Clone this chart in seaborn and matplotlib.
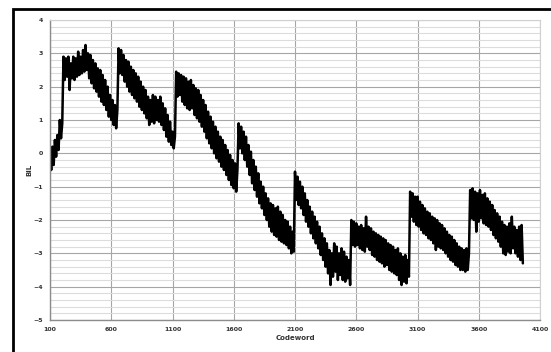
import matplotlib
matplotlib.use("Agg")
import matplotlib.pyplot as plt
from matplotlib.patches import Rectangle
from matplotlib.ticker import MultipleLocator
import seaborn as sns
import pandas as pd

# =========================
# DATA (one value every 10 codewords)
# =========================
bil = [
    # 100 - 290
    -0.1, -0.5, 0.2, -0.35, 0.4, -0.1, 0.55, 0.1, 1.0, 0.45,
    0.9, 2.9, 2.2, 2.85, 2.3, 2.9, 1.9, 2.7, 2.25, 2.9,
    # 300 - 490
    2.2, 2.85, 2.3, 3.05, 2.35, 2.9, 2.4, 3.1, 2.45, 3.25,
    2.5, 3.0, 2.25, 2.95, 2.1, 2.8, 1.95, 2.7, 1.85, 2.55,
    # 500 - 690
    1.7, 2.5, 1.55, 2.35, 1.45, 2.2, 1.3, 2.0, 1.1, 1.75,
    1.0, 1.6, 0.85, 1.45, 0.75, 1.3, 3.15, 2.4, 3.1, 2.35,
    # 700 - 890
    2.95, 2.15, 2.8, 2.0, 2.75, 1.85, 2.6, 1.75, 2.5, 1.65,
    2.4, 1.55, 2.3, 1.4, 2.15, 1.3, 2.0, 1.2, 1.9, 1.05,
    # 900 - 1090
    1.7, 0.85, 1.6, 0.95, 1.75, 0.9, 1.7, 1.0, 1.6, 0.95,
    1.7, 0.85, 1.5, 0.7, 1.35, 0.5, 1.15, 0.35, 0.95, 0.25,
    # 1100 - 1290
    0.65, 0.15, 0.5, 2.45, 1.7, 2.4, 1.75, 2.35, 1.55, 2.3,
    1.45, 2.25, 1.35, 2.15, 1.3, 2.2, 1.35, 2.05, 1.15, 1.95,
    # 1300 - 1490
    1.05, 1.9, 0.95, 1.75, 0.8, 1.6, 0.65, 1.45, 0.45, 1.25,
    0.3, 1.1, 0.15, 0.95, 0.0, 0.8, -0.15, 0.65, -0.25, 0.5,
    # 1500 - 1690
    -0.4, 0.4, -0.5, 0.25, -0.65, 0.1, -0.8, -0.05, -0.95, -0.2,
    -1.05, -0.3, -1.15, -0.5, 0.9, 0.15, 0.8, 0.0, 0.65, -0.2,
    # 1700 - 1890
    0.5, -0.4, 0.25, -0.65, 0.05, -0.9, -0.2, -1.1, -0.4, -1.3,
    -0.6, -1.5, -0.85, -1.65, -1.0, -1.85, -1.2, -2.0, -1.35, -2.2,
    # 1900 - 2090
    -1.5, -2.35, -1.55, -2.45, -1.65, -2.5, -1.6, -2.6, -1.75, -2.65,
    -1.85, -2.7, -2.0, -2.75, -2.05, -2.85, -2.2, -3.0, -2.35, -2.95,
    # 2100 - 2290
    -0.55, -1.4, -0.7, -1.55, -0.85, -1.65, -1.0, -1.85, -1.2, -2.05,
    -1.4, -2.2, -1.6, -2.4, -1.75, -2.55, -1.9, -2.7, -2.05, -2.85,
    # 2300 - 2490
    -2.2, -3.05, -2.4, -3.2, -2.55, -3.4, -2.7, -3.6, -2.9, -3.95,
    -3.0, -3.7, -2.7, -3.55, -2.8, -3.8, -3.0, -3.65, -2.85, -3.8,
    # 2500 - 2690
    -2.95, -3.85, -3.1, -3.75, -3.2, -3.95, -2.0, -2.75, -2.05, -2.8,
    -2.1, -2.75, -2.2, -2.85, -2.15, -2.9, -2.25, -2.95, -1.9, -2.8,
    # 2700 - 2890
    -2.2, -2.9, -2.25, -3.05, -2.35, -3.1, -2.4, -3.2, -2.45, -3.25,
    -2.5, -3.3, -2.55, -3.4, -2.6, -3.35, -2.7, -3.5, -2.75, -3.55,
    # 2900 - 3090
    -2.8, -3.6, -2.9, -3.65, -2.85, -3.8, -3.0, -3.95, -3.1, -3.85,
    -3.05, -3.9, -3.2, -3.7, -1.15, -1.9, -1.2, -2.05, -1.3, -2.15,
    # 3100 - 3290
    -1.3, -2.2, -1.45, -2.3, -1.55, -2.4, -1.65, -2.45, -1.75, -2.55,
    -1.8, -2.6, -1.9, -2.7, -1.95, -2.9, -2.0, -2.8, -2.1, -2.85,
    # 3300 - 3490
    -2.15, -2.9, -2.25, -3.0, -2.35, -3.1, -2.45, -3.2, -2.5, -3.25,
    -2.6, -3.35, -2.7, -3.4, -2.8, -3.5, -2.85, -3.5, -2.9, -3.55,
    # 3500 - 3690
    -2.85, -3.5, -3.0, -1.1, -1.95, -1.05, -2.0, -1.15, -2.35, -1.2,
    -2.05, -1.1, -1.95, -1.25, -2.1, -1.2, -2.15, -1.35, -2.2, -1.45,
    # 3700 - 3890
    -2.3, -1.55, -2.45, -1.7, -2.55, -1.8, -2.65, -1.9, -2.8, -2.05,
    -3.0, -2.15, -3.05, -2.2, -2.95, -2.1, -3.0, -1.9, -2.85, -2.2,
    # 3900 - 3960
    -3.0, -2.3, -3.1, -2.2, -3.2, -2.15, -3.3,
]
codeword = list(range(100, 100 + 10 * len(bil), 10))

x_ticks = [100, 600, 1100, 1600, 2100, 2600, 3100, 3600, 4100]
y_ticks = [-5, -4, -3, -2, -1, 0, 1, 2, 3, 4]

df = pd.DataFrame({"Codeword": codeword, "BIL": bil})

# =========================
# PLOT
# =========================
sns.set_style("white")
plt.rcParams["path.simplify"] = False  # keep every zigzag of the noisy trace
fig = plt.figure(figsize=(5.51, 3.52), dpi=100)
ax = fig.add_axes([50 / 551, 32 / 352, 490 / 551, 300 / 352])

# outer chart frame (cut off on right and bottom like the original)
fig.patches.append(Rectangle((13 / 551, -0.1), 1.2, (352 - 9) / 352 + 0.1,
                             transform=fig.transFigure, fill=False,
                             edgecolor="black", linewidth=2.0))

sns.lineplot(data=df, x="Codeword", y="BIL", color="black",
             linewidth=1.8, ax=ax, estimator=None)

ax.set_xlim(100, 4100)
ax.set_ylim(-5, 4)
ax.set_xticks(x_ticks)
ax.set_yticks(y_ticks)
ax.yaxis.set_minor_locator(MultipleLocator(0.2))

ax.grid(which="major", axis="y", color="#a6a6a6", linewidth=0.8)
ax.grid(which="minor", axis="y", color="#dcdcdc", linewidth=0.8)
ax.grid(which="major", axis="x", color="#a6a6a6", linewidth=0.8)
ax.set_axisbelow(True)

for side in ["top", "right"]:
    ax.spines[side].set_color("#d0d0d0")
    ax.spines[side].set_linewidth(0.8)
for side in ["left", "bottom"]:
    ax.spines[side].set_color("#8c8c8c")
    ax.spines[side].set_linewidth(1.0)

ax.tick_params(axis="both", which="major", labelsize=4.5, length=2,
               color="#8c8c8c", pad=3, labelcolor="#333333")
ax.tick_params(axis="y", which="minor", length=0)
for lbl in ax.get_xticklabels() + ax.get_yticklabels():
    lbl.set_fontweight("bold")

ax.set_xlabel("Codeword", fontsize=5, fontweight="bold", color="#333333", labelpad=2)
ax.set_ylabel("BIL", fontsize=5, fontweight="bold", color="#333333", labelpad=1)

plt.savefig("out.png", dpi=100)
